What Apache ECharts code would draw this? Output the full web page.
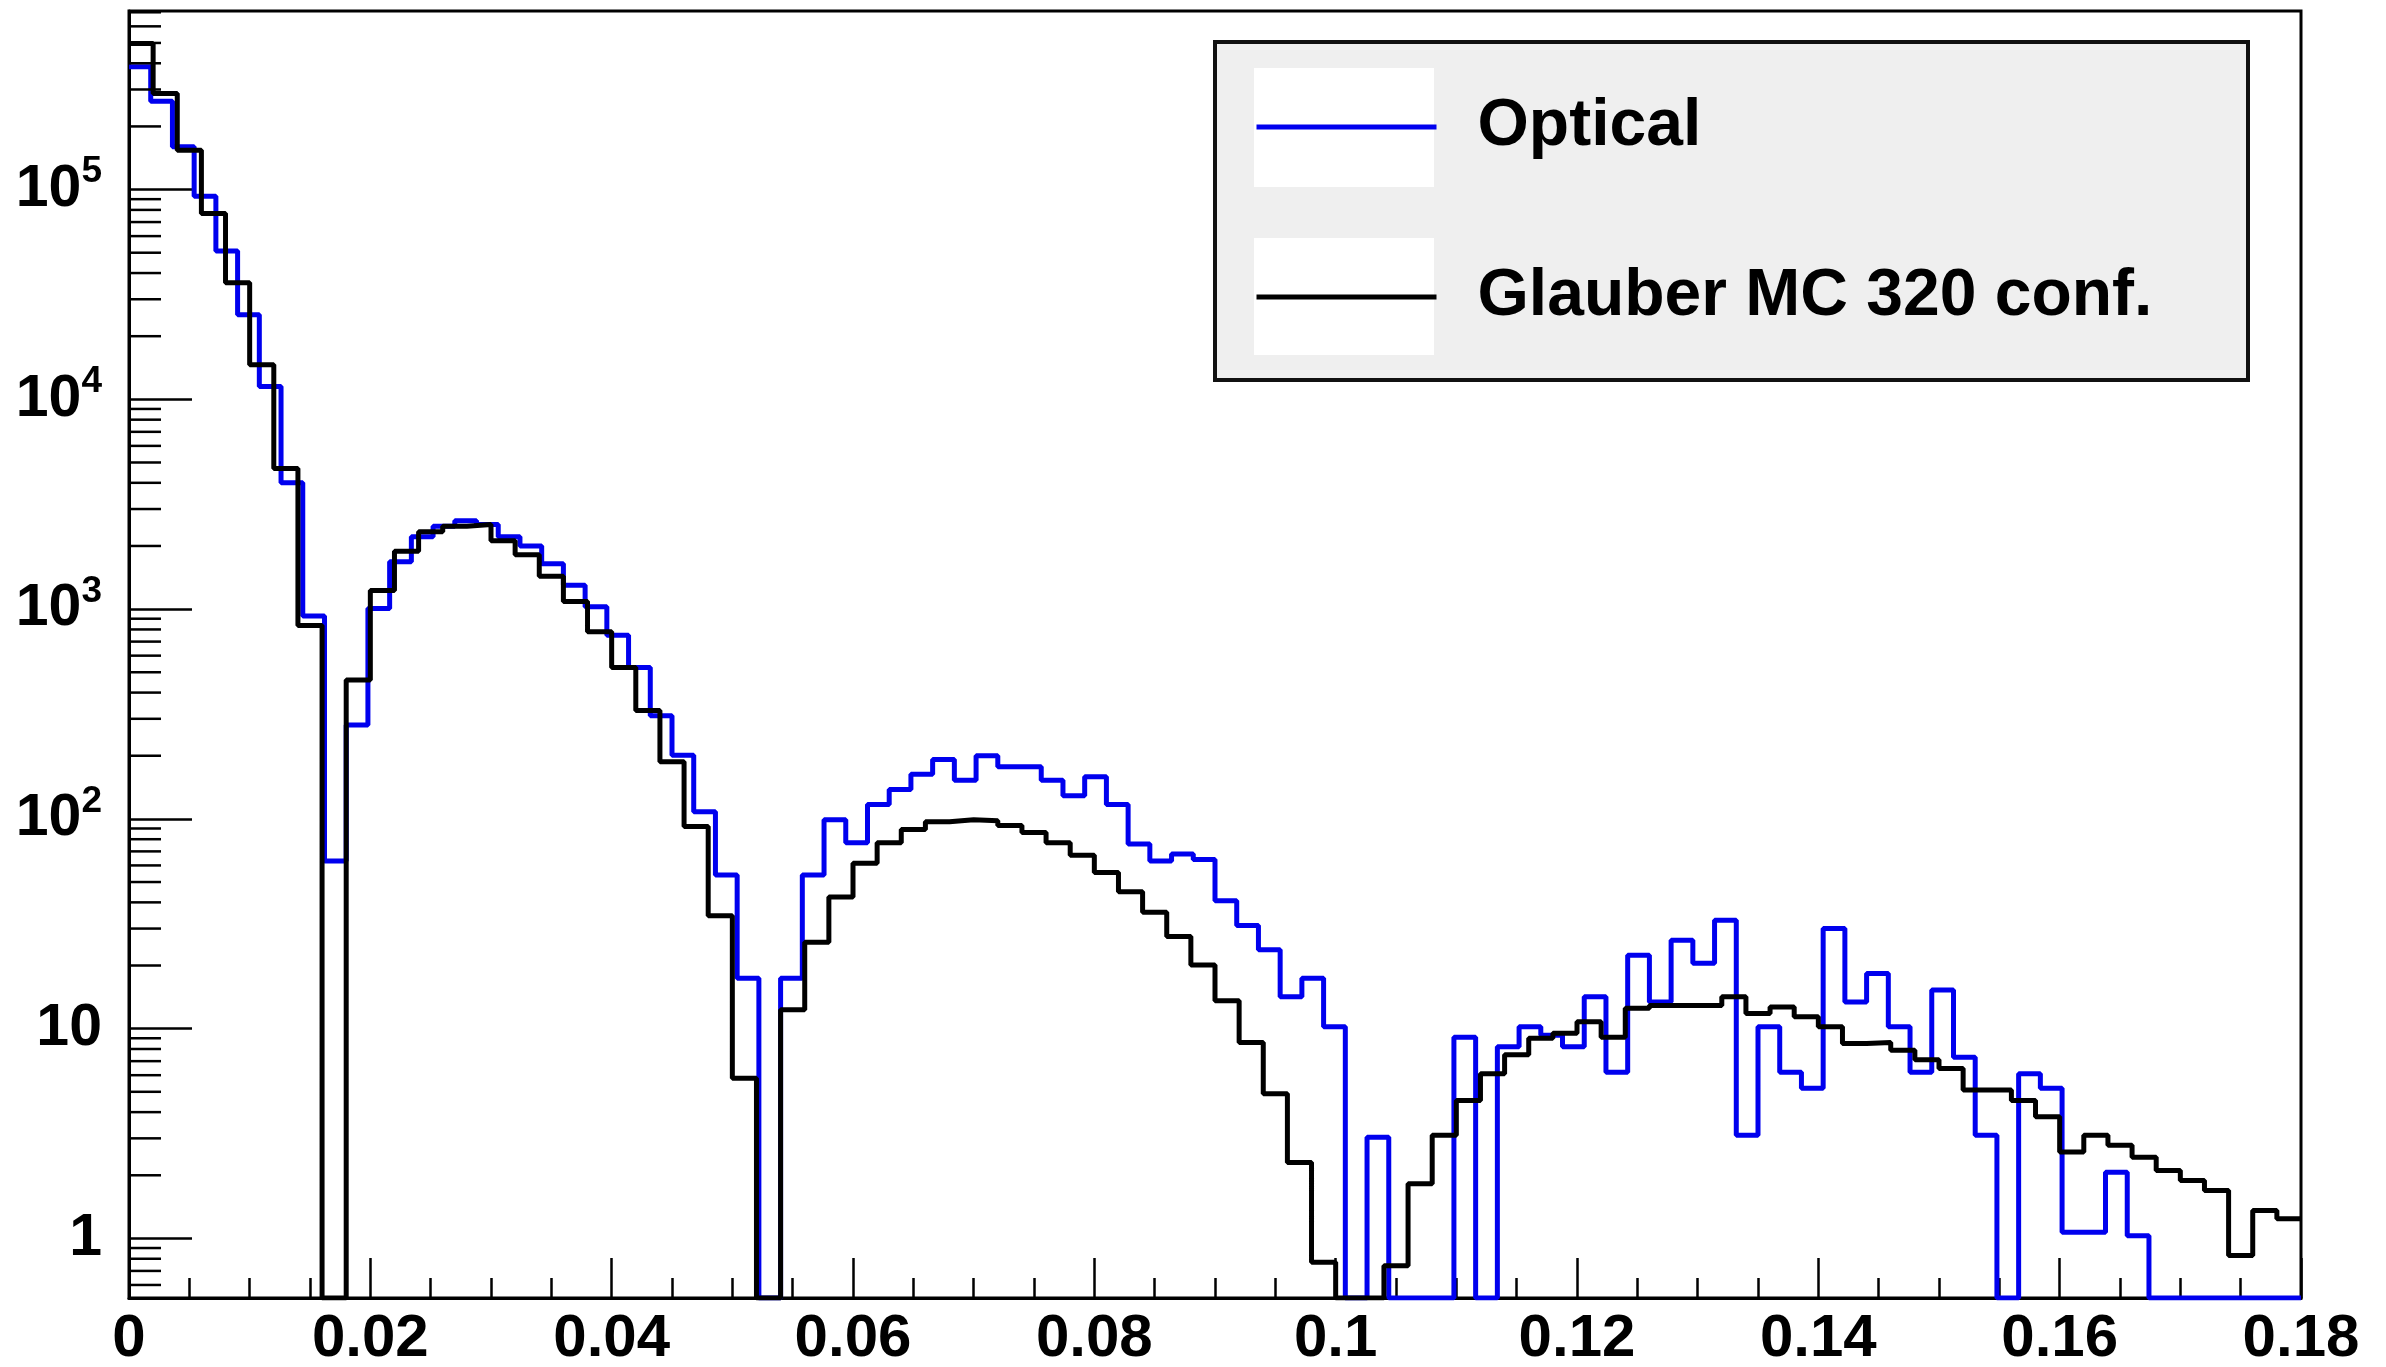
<!DOCTYPE html>
<html>
<head>
<meta charset="utf-8">
<title>Optical vs Glauber MC</title>
<script src="https://cdn.jsdelivr.net/npm/echarts@6/dist/echarts.min.js"></script>
<style>
  html, body { margin: 0; padding: 0; background: #fff; }
  #chart { width: 2386px; height: 1367px; }
</style>
</head>
<body>
<div id="chart"></div>
<script>
// x range and binning of the two histograms
const xMin = 0;
const xMax = 0.18;
const opticalBinWidth = 0.0018; // 100 bins
const glauberBinWidth = 0.002;  // 90 bins

// bin contents (0 = empty bin, drawn on the frame bottom like ROOT does)
const opticalCounts = [
  385000, 264000, 160000, 93000, 51000, 25300, 11500, 4000, 927, 63,
  280, 1007, 1680, 2210, 2480, 2640, 2530, 2210, 2000, 1645,
  1298, 1025, 750, 527, 310, 201, 108, 54, 17.4, 0,
  17.4, 54, 99, 77, 117, 138, 163, 192, 153, 200,
  177, 177, 153, 129, 159, 117, 76, 63, 68, 64,
  40.7, 31, 23.8, 14.2, 17.4, 10.2, 0, 3.04, 0, 0,
  0, 9.1, 0, 8.2, 10.2, 9.3, 8.2, 14.2, 6.2, 22.4,
  13.4, 26.4, 20.5, 32.9, 3.1, 10.2, 6.2, 5.2, 30, 13.4,
  18.3, 10.2, 6.2, 15.3, 7.3, 3.1, 0, 6.1, 5.2, 1.07,
  1.07, 2.07, 1.03, 0, 0, 0, 0, 0, 0, 0
];
const glauberCounts = [
  497000, 287000, 154000, 77000, 36000, 14600, 4680, 835, 0, 459,
  1225, 1888, 2340, 2480, 2530, 2120, 1815, 1433, 1088, 780,
  527, 329, 187, 92, 34.5, 5.8, 0, 12.3, 25.8, 42.4,
  61.5, 77, 89, 97, 99, 98, 93, 86, 77, 67,
  55.5, 45, 35.9, 27.5, 20.1, 13.6, 8.6, 4.9, 2.3, 0.77,
  0, 0, 0.74, 1.82, 3.1, 4.55, 6.1, 7.5, 9.0, 9.5,
  10.8, 9.1, 12.5, 12.9, 12.9, 12.9, 14.2, 11.8, 12.7, 11.4,
  10.2, 8.5, 8.6, 7.9, 7.1, 6.45, 5.1, 5.1, 4.55, 3.8,
  2.58, 3.1, 2.78, 2.44, 2.11, 1.89, 1.69, 0.83, 1.36, 1.24
];

const seriesNames = ['Optical', 'Glauber MC 320 conf.'];

// axis ticks / labels
const xTickStep = 0.02;
const xTickLabels = ['0', '0.02', '0.04', '0.06', '0.08', '0.1', '0.12', '0.14', '0.16', '0.18'];
const yMin = 0.52;
const yMax = 7.1e5;
const yTickValues = [1, 10, 100, 1000, 10000, 100000];
const yTickLabels = ['{b|1}', '{b|10}', '{b|10}{s|2}', '{b|10}{s|3}', '{b|10}{s|4}', '{b|10}{s|5}'];
const yMinorMultipliers = [2, 3, 4, 5, 6, 7, 8, 9];
const yMinorDecades = [0.1, 1, 10, 100, 1000, 10000, 100000];

const font = 'Liberation Sans';

// histogram -> step points (left edges + closing right edge)
function toSteps(counts, width) {
  const pts = counts.map(function (c, i) {
    return [xMin + i * width, c > 0 ? c : yMin];
  });
  pts.push([xMin + counts.length * width, pts[pts.length - 1][1]]);
  return pts;
}

// minor ticks of the log axis (2..9 per decade)
const yMinorTicks = [];
yMinorDecades.forEach(function (d) {
  yMinorMultipliers.forEach(function (m) {
    const v = m * d;
    if (v >= yMin && v <= yMax) yMinorTicks.push([xMin, v]);
  });
});

const chart = echarts.init(document.getElementById('chart'));

chart.setOption({
  animation: false,
  backgroundColor: '#fff',
  grid: {
    left: 129, right: 85, top: 11, bottom: 69,
    show: true, borderColor: '#000', borderWidth: 3,
    outerBoundsMode: 'none'
  },
  legend: {
    data: seriesNames,
    orient: 'vertical',
    left: 1254, top: 89, padding: 0,
    // item box is 0.8 * itemHeight tall (line icon + hidden symbol)
    itemWidth: 180, itemHeight: 95, itemGap: 94,
    selectedMode: false,
    itemStyle: { opacity: 0 },
    lineStyle: { width: 5 },
    textStyle: { color: '#000', fontSize: 66, fontWeight: 'bold', fontFamily: font, padding: [0, 0, 8, 36] },
    z: 10
  },
  graphic: [
    // legend frame and the white sample boxes
    { type: 'rect', z: 5, shape: { x: 1215, y: 42, width: 1033, height: 338 },
      style: { fill: '#efefef', stroke: '#111', lineWidth: 4 } },
    { type: 'rect', z: 6, shape: { x: 1254, y: 68, width: 180, height: 119 }, style: { fill: '#fff' } },
    { type: 'rect', z: 6, shape: { x: 1254, y: 238, width: 180, height: 117 }, style: { fill: '#fff' } }
  ],
  xAxis: {
    type: 'value',
    min: xMin, max: xMax, interval: xTickStep,
    axisLine: { lineStyle: { color: '#000', width: 3 } },
    axisTick: { inside: true, length: 40, lineStyle: { color: '#000', width: 2.5 } },
    minorTick: { show: true, splitNumber: 4, length: 20, lineStyle: { color: '#000', width: 2.5 } },
    splitLine: { show: false },
    axisLabel: {
      color: '#000', fontSize: 60, fontWeight: 'bold', fontFamily: font, margin: 11,
      formatter: function (v) { return xTickLabels[Math.round(v / xTickStep)]; }
    }
  },
  yAxis: {
    type: 'log', logBase: 10,
    min: yMin, max: yMax,
    axisLine: { lineStyle: { color: '#000', width: 3 } },
    axisTick: { inside: true, length: 63, lineStyle: { color: '#000', width: 2.5 } },
    splitLine: { show: false },
    axisLabel: {
      color: '#000', fontWeight: 'bold', fontFamily: font, margin: 27,
      showMinLabel: false, showMaxLabel: false,
      formatter: function (v) {
        for (let i = 0; i < yTickValues.length; i++) {
          if (Math.abs(v - yTickValues[i]) < 1e-6 * yTickValues[i]) return yTickLabels[i];
        }
        return '';
      },
      rich: {
        b: { fontSize: 59, lineHeight: 72, fontWeight: 'bold', fontFamily: font, color: '#000' },
        s: { fontSize: 37, fontWeight: 'bold', fontFamily: font, color: '#000', verticalAlign: 'top' }
      }
    }
  },
  series: [
    {
      name: seriesNames[0],
      type: 'line', step: 'end',
      symbol: 'none', showSymbol: false,
      data: toSteps(opticalCounts, opticalBinWidth),
      lineStyle: { color: '#0000ee', width: 5 },
      itemStyle: { color: '#0000ee' },
      z: 3
    },
    {
      name: seriesNames[1],
      type: 'line', step: 'end',
      symbol: 'none', showSymbol: false,
      data: toSteps(glauberCounts, glauberBinWidth),
      lineStyle: { color: '#000', width: 5 },
      itemStyle: { color: '#000' },
      z: 4
    },
    {
      // minor ticks on the log y axis
      type: 'custom', silent: true,
      data: yMinorTicks,
      renderItem: function (params, api) {
        const p = api.coord([api.value(0), api.value(1)]);
        return {
          type: 'line',
          shape: { x1: p[0], y1: p[1], x2: p[0] + 32, y2: p[1] },
          style: { stroke: '#000', lineWidth: 2.5 }
        };
      },
      z: 5
    }
  ]
});

window.addEventListener('resize', function () {
  chart.resize();
});
</script>
</body>
</html>
